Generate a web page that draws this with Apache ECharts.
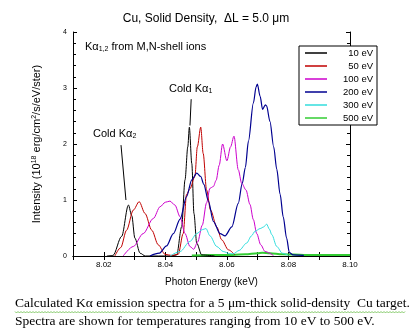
<!DOCTYPE html>
<html>
<head>
<meta charset="utf-8">
<script src="https://cdn.jsdelivr.net/npm/echarts@6/dist/echarts.min.js"></script>
<style>html,body{margin:0;padding:0;background:#fff}#c{width:419px;height:336px}</style>
</head>
<body>
<div id="c"></div>
<script>
// ---- data (photon energy keV, intensity 1e18 erg/cm2/s/eV/ster) ----
const xTicks = ['8.02', '8.04', '8.06', '8.08', '8.10'];
const yTicks = ['0', '1', '2', '3', '4'];
const seriesNames = ['10 eV', '50 eV', '100 eV', '200 eV', '300 eV', '500 eV'];

const e10 = [8.0210, 8.0230, 8.0258, 8.0280, 8.0291, 8.0301, 8.0318, 8.0335, 8.0420, 8.0437, 8.0453, 8.0464, 8.0473, 8.0478, 8.0486, 8.0493, 8.0502, 8.0518, 8.0560];
const i10 = [0, 0.01, 0.35, 0.91, 0.72, 0.32, 0.05, 0, 0, 0.02, 0.52, 1.36, 1.95, 2.30, 1.65, 0.76, 0.23, 0.02, 0];

const e50 = [8.0236, 8.0255, 8.0274, 8.0296, 8.0315, 8.0334, 8.0356, 8.0377, 8.0399, 8.0420, 8.0442, 8.0458, 8.0469, 8.0480, 8.0496, 8.0504, 8.0515, 8.0523, 8.0534, 8.0547, 8.0567, 8.0583, 8.0605, 8.0626];
const i50 = [0, 0.15, 0.46, 0.82, 0.97, 0.76, 0.46, 0.20, 0.03, 0.01, 0.03, 0.40, 1.10, 1.20, 1.42, 1.95, 2.30, 1.83, 1.18, 0.82, 0.52, 0.29, 0.11, 0.02];

const e100 = [8.0263, 8.0296, 8.0328, 8.0361, 8.0383, 8.0400, 8.0415, 8.0431, 8.0448, 8.0464, 8.0480, 8.0492, 8.0505, 8.0520, 8.0534, 8.0545, 8.0556, 8.0565, 8.0575, 8.0586, 8.0600, 8.0612, 8.0623, 8.0637, 8.0648, 8.0662, 8.0675, 8.0686, 8.0697, 8.0710, 8.0724, 8.0751];
const i100 = [0, 0.17, 0.40, 0.67, 0.88, 0.96, 0.98, 0.91, 0.70, 0.40, 0.17, 0.12, 0.25, 0.55, 0.95, 1.21, 1.24, 1.35, 1.62, 2.00, 1.70, 1.95, 2.14, 1.54, 1.30, 1.18, 0.92, 0.65, 0.40, 0.20, 0.08, 0.01];

const e200 = [8.0350, 8.0380, 8.0404, 8.0426, 8.0448, 8.0469, 8.0486, 8.0502, 8.0515, 8.0525, 8.0540, 8.0556, 8.0578, 8.0594, 8.0616, 8.0637, 8.0650, 8.0660, 8.0670, 8.0686, 8.0695, 8.0699, 8.0708, 8.0716, 8.0725, 8.0729, 8.0740, 8.0752, 8.0762, 8.0773, 8.0783, 8.0794, 8.0803, 8.0815, 8.0850];
const i200 = [0, 0.05, 0.18, 0.40, 0.66, 1.06, 1.36, 1.48, 1.42, 1.28, 0.98, 0.62, 0.40, 0.36, 0.52, 0.94, 1.30, 1.58, 2.05, 2.73, 3.02, 3.07, 2.85, 2.62, 2.70, 2.68, 2.40, 1.95, 1.55, 1.10, 0.70, 0.32, 0.06, 0.02, 0.01];

const e300 = [8.0415, 8.0448, 8.0480, 8.0502, 8.0520, 8.0532, 8.0545, 8.0567, 8.0588, 8.0610, 8.0621, 8.0640, 8.0664, 8.0680, 8.0691, 8.0708, 8.0720, 8.0729, 8.0738, 8.0746, 8.0762, 8.0780, 8.0800];
const i300 = [0, 0.08, 0.26, 0.40, 0.47, 0.49, 0.36, 0.17, 0.08, 0.04, 0.04, 0.10, 0.23, 0.36, 0.44, 0.49, 0.52, 0.57, 0.48, 0.38, 0.17, 0.05, 0.01];

const e500 = [8.0486, 8.0550, 8.0620, 8.0660, 8.0700, 8.0715, 8.0740, 8.0780, 8.0850, 8.0950, 8.1000];
const i500 = [0.01, 0.02, 0.02, 0.03, 0.05, 0.06, 0.05, 0.03, 0.02, 0.02, 0.02];

const colors = ['#000000', '#c00000', '#cc00cc', '#000090', '#33dddd', '#33cc33'];
const widths = [1, 1, 1, 1.2, 1, 2];
const energies = [e10, e50, e100, e200, e300, e500];
const intens = [i10, i50, i100, i200, i300, i500];

const FONT = 'Liberation Sans, Arial, sans-serif';
const SERIF = 'Liberation Serif, Times New Roman, serif';

function pairs(xs, ys) { return xs.map((x, k) => [x, ys[k]]); }

const series = seriesNames.map((n, k) => ({
  name: n, type: 'line', data: pairs(energies[k], intens[k]),
  showSymbol: false, symbol: 'none', smooth: 0.3, smoothMonotone: 'x',
  lineStyle: { color: colors[k], width: widths[k] }, itemStyle: { color: colors[k] },
  z: k === 5 ? 1 : 2, silent: true
}));
series[0].markLine = {
  silent: true, symbol: 'none', label: { show: false },
  lineStyle: { color: '#000', width: 1, type: 'solid' },
  data: [
    [{ coord: [8.0484, 2.80] }, { coord: [8.0480, 2.33] }],
    [{ coord: [8.0256, 1.98] }, { coord: [8.0272, 1.00] }]
  ]
};

function xLab(v) {
  const k = Math.round(v * 100);
  const s = (k / 100).toFixed(2);
  return xTicks.indexOf(s) >= 0 ? s : '';
}

const axisCommon = {
  axisLine: { show: true, lineStyle: { color: '#000', width: 1 } },
  splitLine: { show: false }
};

// wavy underline decoration points
const wave = [];
for (let x = 15, j = 0; x <= 406; x += 1.5, j++) wave.push([x, 312 + (j % 2 ? 1 : -0.5)]);

const chart = echarts.init(document.getElementById('c'), null, { renderer: 'canvas' });
chart.setOption({
  animation: false,
  backgroundColor: '#fff',
  title: {
    text: 'Cu, Solid Density,  ΔL = 5.0 μm', left: 201, top: 8, textAlign: 'center',
    textStyle: { fontFamily: FONT, fontSize: 12, fontWeight: 'normal', color: '#000' }
  },
  grid: { left: 73, right: 69, top: 32, bottom: 80 },
  xAxis: [
    Object.assign({}, axisCommon, {
      type: 'value', min: 8.01, max: 8.10, interval: 0.01, position: 'bottom',
      name: 'Photon Energy (keV)', nameLocation: 'middle', nameGap: 21,
      nameTextStyle: { fontFamily: FONT, fontSize: 10, color: '#000' },
      axisTick: { show: true, inside: true, length: 4, lineStyle: { color: '#000' } },
      axisLabel: { fontFamily: FONT, fontSize: 8, color: '#000', margin: 5, formatter: xLab }
    }),
    Object.assign({}, axisCommon, {
      type: 'value', min: 8.01, max: 8.10, interval: 0.01, position: 'top',
      axisTick: { show: true, inside: true, length: 4, lineStyle: { color: '#000' } },
      axisLabel: { show: false }
    })
  ],
  yAxis: [
    Object.assign({}, axisCommon, {
      type: 'value', min: 0, max: 4, interval: 1, position: 'left',
      name: 'Intensity (10{s|18} erg/cm{s|2}/s/eV/ster)', nameLocation: 'middle', nameGap: 30,
      nameTextStyle: { fontFamily: FONT, fontSize: 11, color: '#000',
        rich: { s: { fontFamily: FONT, fontSize: 7, verticalAlign: 'top', padding: [0, 0, 5, 0] } } },
      axisTick: { show: true, inside: true, length: 4, lineStyle: { color: '#000' } },
      minorTick: { show: true, splitNumber: 5, length: 3, lineStyle: { color: '#000' } },
      axisLabel: { fontFamily: FONT, fontSize: 7, color: '#000', margin: 6,
        formatter: v => yTicks[Math.round(v)] }
    }),
    Object.assign({}, axisCommon, {
      type: 'value', min: 0, max: 4, interval: 1, position: 'right',
      axisTick: { show: true, inside: true, length: 4, lineStyle: { color: '#000' } },
      minorTick: { show: true, splitNumber: 5, length: 3, lineStyle: { color: '#000' } },
      axisLabel: { show: false }
    })
  ],
  legend: {
    orient: 'vertical', left: 299, top: 46, data: seriesNames,
    backgroundColor: '#fff', borderColor: '#000', borderWidth: 1, borderRadius: 0,
    padding: [1, 4, 1, 6], itemGap: 1, itemWidth: 22, itemHeight: 1.5, icon: 'rect',
    selectedMode: false,
    formatter: n => '{a|' + n + '}',
    textStyle: { fontFamily: FONT, fontSize: 9, color: '#000', lineHeight: 12,
      rich: { a: { width: 41, align: 'right', fontFamily: FONT, fontSize: 9.5, lineHeight: 12 } } }
  },
  graphic: [
    { type: 'text', left: 85, top: 41, z: 10, style: {
      text: 'Kα{b|1,2} from M,N-shell ions', fill: '#000', font: '11px ' + FONT,
      rich: { b: { fontSize: 7, fontFamily: FONT, verticalAlign: 'bottom', padding: [6, 0, 0, 0] } } } },
    { type: 'text', left: 169, top: 83, z: 10, style: {
      text: 'Cold Kα{b|1}', fill: '#000', font: '11px ' + FONT,
      rich: { b: { fontSize: 7, fontFamily: FONT, verticalAlign: 'bottom', padding: [6, 0, 0, 0] } } } },
    { type: 'text', left: 93, top: 128, z: 10, style: {
      text: 'Cold Kα{b|2}', fill: '#000', font: '11px ' + FONT,
      rich: { b: { fontSize: 7, fontFamily: FONT, verticalAlign: 'bottom', padding: [6, 0, 0, 0] } } } },
    { type: 'text', left: 15, top: 296, z: 10, style: {
      text: 'Calculated Kα emission spectra for a 5 μm-thick solid-density  Cu target.',
      fill: '#000', font: '13.5px ' + SERIF } },
    { type: 'text', left: 15, top: 314, z: 10, style: {
      text: 'Spectra are shown for temperatures ranging from 10 eV to 500 eV.',
      fill: '#000', font: '13.5px ' + SERIF } },
    { type: 'polyline', z: 9, shape: { points: wave },
      style: { stroke: '#66bb44', lineWidth: 0.8, fill: null } }
  ],
  series: series
});
</script>
</body>
</html>
